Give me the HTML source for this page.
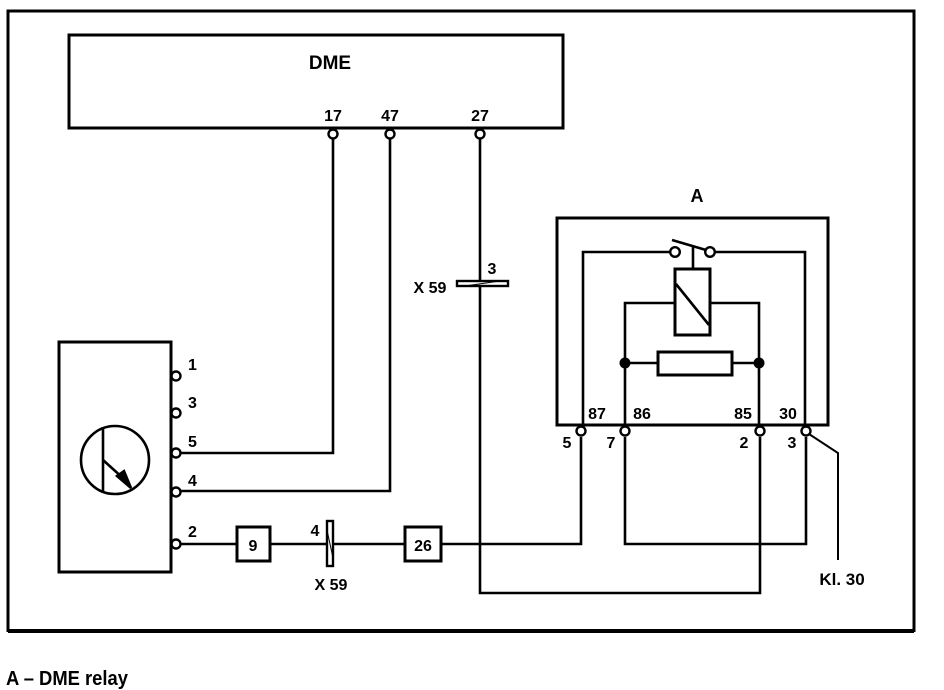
<!DOCTYPE html>
<html><head><meta charset="utf-8"><style>
html,body{margin:0;padding:0;background:#fff;}
svg{display:block;}
text{font-family:"Liberation Sans",sans-serif;font-weight:bold;fill:#000;}
</style></head><body>
<svg width="944" height="690" viewBox="0 0 944 690" xmlns="http://www.w3.org/2000/svg">
<g fill="none" stroke="#000" stroke-width="2.6">
<path d="M8 632 L8 11 L914 11 L914 632" stroke-width="3"/>
<line x1="8" y1="631" x2="914" y2="631" stroke-width="4"/>
<rect x="69" y="35" width="494" height="93" stroke-width="3"/>
<polyline points="333,139 333,453 181,453"/>
<polyline points="390,139 390,491 181,491"/>
<polyline points="480,139 480,593 760,593 760,437"/>
<rect x="59" y="342" width="112" height="230" stroke-width="3"/>
<circle cx="115" cy="460" r="34"/>
<line x1="103" y1="427" x2="103" y2="493"/>
<line x1="103" y1="460" x2="124" y2="479"/>
<line x1="181" y1="544" x2="237" y2="544"/>
<rect x="237" y="527" width="33" height="34" stroke-width="3"/>
<line x1="270" y1="544" x2="405" y2="544"/>
<rect x="405" y="527" width="36" height="34" stroke-width="3"/>
<polyline points="441,544 581,544 581,437"/>
<rect x="557" y="218" width="271" height="207" stroke-width="3"/>
<polyline points="583,425 583,252 671,252"/>
<polyline points="714,252 805,252 805,425"/>
<line x1="672" y1="240" x2="706" y2="250"/>
<line x1="693" y1="247" x2="693" y2="268"/>
<rect x="675" y="269" width="35" height="66" stroke-width="3"/>
<line x1="676" y1="284" x2="709" y2="325"/>
<polyline points="675,303 625,303 625,426"/>
<polyline points="710,303 759,303 759,426"/>
<line x1="625" y1="363" x2="658" y2="363"/>
<line x1="732" y1="363" x2="759" y2="363"/>
<rect x="658" y="352" width="74" height="23" stroke-width="3"/>
<polyline points="625,437 625,544 806,544 806,437"/>
<polyline points="809,434 838,453 838,560" stroke-width="2"/>
</g>
<polygon points="117,476 131,488 124,471" fill="#000" stroke="#000" stroke-width="2.5"/>
<circle cx="625" cy="363" r="5.5" fill="#000"/>
<circle cx="759" cy="363" r="5.5" fill="#000"/>
<g fill="#fff" stroke="#000" stroke-width="2.4">
<circle cx="675" cy="252" r="4.8"/>
<circle cx="710" cy="252" r="4.8"/>
<circle cx="333" cy="134" r="4.5"/>
<circle cx="390" cy="134" r="4.5"/>
<circle cx="480" cy="134" r="4.5"/>
<circle cx="176" cy="376" r="4.5"/>
<circle cx="176" cy="413" r="4.5"/>
<circle cx="176" cy="453" r="4.5"/>
<circle cx="176" cy="492" r="4.5"/>
<circle cx="176" cy="544" r="4.5"/>
<circle cx="581" cy="431" r="4.5"/>
<circle cx="625" cy="431" r="4.5"/>
<circle cx="760" cy="431" r="4.5"/>
<circle cx="806" cy="431" r="4.5"/>
<rect x="457" y="281" width="51" height="5"/>
<rect x="327" y="521" width="6" height="45"/>
</g>
<line x1="465" y1="286" x2="500" y2="281" stroke="#000" stroke-width="1"/>
<line x1="327" y1="530" x2="333" y2="558" stroke="#000" stroke-width="1"/>
<text x="330" y="69" font-size="19" text-anchor="middle">DME</text>
<text x="333" y="121" font-size="16" text-anchor="middle">17</text>
<text x="390" y="121" font-size="16" text-anchor="middle">47</text>
<text x="480" y="121" font-size="16" text-anchor="middle">27</text>
<text x="492" y="274" font-size="16" text-anchor="middle">3</text>
<text x="430" y="293" font-size="16" text-anchor="middle">X 59</text>
<text x="188" y="370" font-size="16">1</text>
<text x="188" y="408" font-size="16">3</text>
<text x="188" y="447" font-size="16">5</text>
<text x="188" y="486" font-size="16">4</text>
<text x="188" y="537" font-size="16">2</text>
<text x="253" y="551" font-size="16" text-anchor="middle">9</text>
<text x="423" y="551" font-size="16" text-anchor="middle">26</text>
<text x="315" y="536" font-size="16" text-anchor="middle">4</text>
<text x="331" y="590" font-size="16" text-anchor="middle">X 59</text>
<text x="697" y="202" font-size="18" text-anchor="middle">A</text>
<text x="597" y="419" font-size="16" text-anchor="middle">87</text>
<text x="642" y="419" font-size="16" text-anchor="middle">86</text>
<text x="743" y="419" font-size="16" text-anchor="middle">85</text>
<text x="788" y="419" font-size="16" text-anchor="middle">30</text>
<text x="567" y="448" font-size="16" text-anchor="middle">5</text>
<text x="611" y="448" font-size="16" text-anchor="middle">7</text>
<text x="744" y="448" font-size="16" text-anchor="middle">2</text>
<text x="792" y="448" font-size="16" text-anchor="middle">3</text>
<text x="842" y="585" font-size="17" text-anchor="middle">Kl. 30</text>
<text font-size="20" transform="translate(6 685) scale(0.92 1)">A – DME relay</text>
</svg>
</body></html>
